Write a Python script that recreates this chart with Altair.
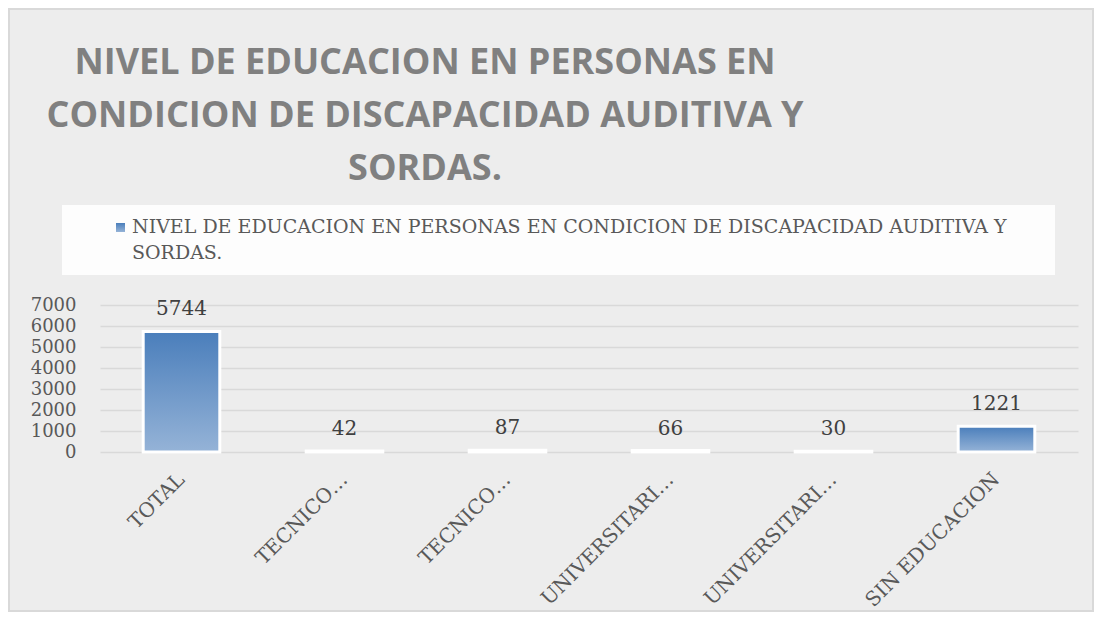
import altair as alt
import pandas as pd

categories = ["TOTAL", "TECNICO COMPLETO", "TECNICO INCOMPLETO",
              "UNIVERSITARIO COMPLETO", "UNIVERSITARIO INCOMPLETO", "SIN EDUCACION"]
tick_labels = ["TOTAL", "TECNICO…", "TECNICO…", "UNIVERSITARI…", "UNIVERSITARI…", "SIN EDUCACION"]
values = [5744, 42, 87, 66, 30, 1221]
y_ticks = [0, 1000, 2000, 3000, 4000, 5000, 6000, 7000]
title_lines = ["NIVEL DE EDUCACION EN PERSONAS EN",
               "CONDICION DE DISCAPACIDAD AUDITIVA Y",
               "SORDAS."]
legend_lines = ["NIVEL DE EDUCACION EN PERSONAS EN CONDICION DE DISCAPACIDAD AUDITIVA Y",
                "SORDAS."]

df = pd.DataFrame({"cat": categories, "val": values})
one = pd.DataFrame({"k": [0]})

SERIF = "DejaVu Serif"
gradient = alt.LinearGradient(
    gradient="linear",
    stops=[alt.GradientStop(color="#4a7ebb", offset=0),
           alt.GradientStop(color="#95b3d7", offset=1)],
    x1=0, x2=0, y1=0, y2=1,
)

cat_js = "[" + ",".join("'%s'" % c for c in categories) + "]"
lab_js = "[" + ",".join("'%s'" % c for c in tick_labels) + "]"

x_enc = alt.X("cat:N", sort=categories, title=None,
              scale=alt.Scale(paddingInner=0.53, paddingOuter=0.265),
              axis=alt.Axis(labelAngle=-45, labelAlign="right", labelBaseline="middle",
                            labelFont=SERIF, labelFontSize=20, labelColor="#595959",
                            labelPadding=24, labelLimit=400, ticks=False, domain=False,
                            grid=False, labelOverlap=False,
                            labelExpr=lab_js + "[indexof(" + cat_js + ", datum.value)]"))
y_enc = alt.Y("val:Q", title=None,
              scale=alt.Scale(domain=[0, 7000], nice=False, zero=True),
              axis=alt.Axis(values=y_ticks, tickCount=8, format="d", labelFont=SERIF,
                            labelFontSize=18, labelColor="#595959", labelPadding=24,
                            ticks=False, labelOverlap=False, labelFlush=False,
                            domain=False, gridColor="#d9d9d9", gridWidth=1.5))

base = alt.Chart(df).encode(x=x_enc, y=y_enc)
bars = base.mark_bar(color=gradient, stroke="white", strokeWidth=3)
labels = base.mark_text(font=SERIF, fontSize=20, color="#404040",
                        baseline="alphabetic", dy=-16).encode(text="val:Q")

border = alt.Chart(one).mark_rect(fill="transparent", stroke="#d9d9d9", strokeWidth=2).encode(
    x=alt.value(-91), x2=alt.value(993), y=alt.value(-296), y2=alt.value(306))
legend_box = alt.Chart(one).mark_rect(fill="white", opacity=0.85).encode(
    x=alt.value(-38), x2=alt.value(955), y=alt.value(-100), y2=alt.value(-30))
legend_sym = alt.Chart(one).mark_square(size=81, color=gradient, opacity=1).encode(
    x=alt.value(20.5), y=alt.value(-77.5))
legend_txt = alt.Chart(one).mark_text(font=SERIF, fontSize=19, color="#595959",
                                      align="left", baseline="middle", lineHeight=26).encode(
    x=alt.value(32), y=alt.value(-78), text=alt.value(legend_lines))
title_txt = alt.Chart(one).mark_text(font="Open Sans", fontSize=36, fontWeight="bold",
                                     color="#808080", align="center", baseline="middle",
                                     lineHeight=53).encode(
    x=alt.value(325), y=alt.value(-242), text=alt.value(title_lines))

chart = alt.layer(border, legend_box, legend_sym, legend_txt, title_txt, bars, labels).properties(
    width=978, height=147,
    autosize=alt.AutoSizeParams(type="none"),
    padding={"left": 92, "top": 297, "right": 16, "bottom": 160},
).configure(background="#ededed").configure_view(stroke=None)

chart.save("out.html", embed_options={"renderer": "svg", "actions": False})
